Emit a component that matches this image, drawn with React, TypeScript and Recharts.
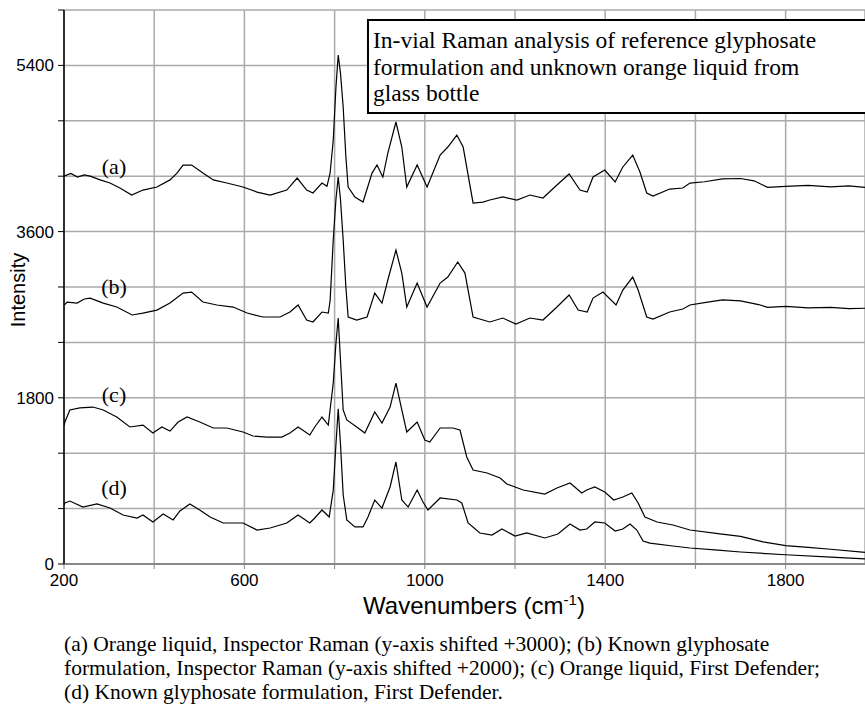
import { LineChart, Line, XAxis, YAxis, CartesianGrid } from 'recharts';

// (a) Orange liquid, Inspector Raman (+3000)
const waveA = [200, 215, 230, 245, 258, 280, 302, 325, 350, 375, 406, 435, 450, 464, 483, 508, 531, 561, 597, 628, 657, 694, 717, 738, 752, 772, 783, 790, 797, 803, 808, 813, 819, 825, 830, 845, 863, 883, 894, 907, 918, 936, 949, 960, 983, 1005, 1034, 1051, 1071, 1085, 1107, 1129, 1144, 1173, 1204, 1233, 1262, 1293, 1320, 1344, 1360, 1373, 1399, 1422, 1439, 1461, 1477, 1492, 1506, 1543, 1572, 1588, 1620, 1660, 1700, 1730, 1760, 1800, 1850, 1900, 1940, 1976];
const intA = [4200, 4230, 4190, 4215, 4200, 4160, 4126, 4070, 3996, 4050, 4083, 4160, 4230, 4321, 4321, 4234, 4160, 4126, 4083, 4028, 3996, 4050, 4180, 4050, 4018, 4126, 4090, 4234, 4592, 5166, 5512, 5317, 4949, 4408, 4083, 3975, 3920, 4234, 4321, 4191, 4451, 4787, 4516, 4083, 4321, 4083, 4429, 4516, 4646, 4516, 3910, 3920, 3942, 3975, 3942, 3996, 3964, 4105, 4224, 4050, 4028, 4191, 4267, 4137, 4300, 4429, 4245, 4018, 3985, 4061, 4072, 4126, 4140, 4170, 4175, 4150, 4080, 4090, 4100, 4085, 4095, 4080];

// (b) Known glyphosate formulation, Inspector Raman (+2000)
const waveB = [200, 207, 229, 245, 258, 287, 317, 351, 375, 406, 435, 464, 483, 508, 539, 575, 606, 641, 679, 701, 719, 738, 752, 772, 786, 790, 797, 803, 808, 813, 819, 825, 830, 849, 872, 889, 905, 918, 936, 949, 960, 983, 1005, 1034, 1051, 1073, 1089, 1107, 1144, 1173, 1202, 1233, 1262, 1293, 1320, 1340, 1360, 1373, 1395, 1424, 1439, 1461, 1473, 1492, 1506, 1543, 1572, 1588, 1620, 1660, 1700, 1740, 1760, 1800, 1850, 1900, 1940, 1976];
const intB = [2800, 2837, 2826, 2870, 2880, 2826, 2783, 2697, 2718, 2750, 2826, 2934, 2945, 2837, 2805, 2783, 2718, 2675, 2675, 2729, 2805, 2642, 2621, 2729, 2718, 2850, 3509, 3950, 4191, 3950, 3509, 3000, 2675, 2642, 2675, 2934, 2826, 3076, 3400, 3151, 2783, 3043, 2783, 3043, 3108, 3271, 3151, 2675, 2621, 2664, 2599, 2664, 2642, 2783, 2913, 2750, 2729, 2880, 2945, 2805, 2967, 3108, 2967, 2675, 2653, 2729, 2762, 2805, 2830, 2860, 2850, 2810, 2780, 2790, 2775, 2780, 2765, 2770];

// (c) Orange liquid, First Defender
const waveC = [200, 202, 213, 235, 264, 287, 317, 346, 375, 397, 417, 435, 453, 473, 501, 531, 561, 597, 619, 650, 683, 701, 719, 745, 756, 772, 786, 797, 803, 808, 813, 819, 827, 849, 867, 889, 905, 923, 936, 949, 960, 983, 1000, 1011, 1034, 1062, 1078, 1093, 1107, 1138, 1167, 1182, 1218, 1266, 1293, 1322, 1348, 1359, 1377, 1399, 1419, 1439, 1459, 1473, 1488, 1515, 1550, 1588, 1650, 1700, 1750, 1800, 1850, 1900, 1976];
const intC = [1500, 1538, 1668, 1690, 1700, 1668, 1592, 1484, 1505, 1419, 1484, 1440, 1538, 1592, 1538, 1473, 1473, 1430, 1386, 1375, 1375, 1419, 1484, 1397, 1484, 1592, 1505, 1960, 2393, 2664, 2210, 1668, 1560, 1484, 1419, 1646, 1527, 1700, 1960, 1668, 1430, 1538, 1343, 1321, 1473, 1473, 1451, 1159, 1018, 986, 931, 866, 801, 758, 823, 877, 769, 801, 834, 780, 693, 726, 769, 661, 509, 455, 422, 368, 330, 300, 240, 200, 180, 160, 125];

// (d) Known glyphosate formulation, First Defender
const waveD = [200, 202, 213, 242, 273, 302, 331, 362, 375, 397, 420, 442, 457, 479, 501, 524, 553, 597, 628, 657, 694, 719, 745, 756, 772, 788, 797, 803, 808, 813, 819, 827, 845, 863, 874, 889, 905, 923, 936, 949, 963, 983, 996, 1007, 1034, 1071, 1082, 1096, 1122, 1149, 1171, 1200, 1226, 1266, 1295, 1322, 1344, 1359, 1377, 1399, 1422, 1439, 1455, 1470, 1484, 1499, 1550, 1588, 1650, 1700, 1800, 1900, 1976];
const intD = [640, 661, 682, 617, 650, 606, 531, 498, 531, 455, 542, 477, 574, 650, 585, 509, 444, 444, 368, 390, 444, 531, 444, 498, 585, 509, 800, 1300, 1680, 1300, 750, 477, 401, 401, 509, 693, 606, 834, 1105, 693, 617, 801, 671, 585, 715, 693, 661, 444, 336, 314, 379, 303, 336, 282, 325, 433, 368, 379, 455, 444, 357, 379, 433, 368, 249, 227, 195, 173, 150, 130, 100, 75, 55];

const xTicks = [200, 400, 600, 800, 1000, 1200, 1400, 1600, 1800];
const xLabelled = [200, 600, 1000, 1400, 1800];
const yTicks = [0, 600, 1200, 1800, 2400, 3000, 3600, 4200, 4800, 5400, 6000];
const yLabelled = [0, 1800, 3600, 5400];

const seriesLabels = ['(a)', '(b)', '(c)', '(d)'];
const labelY = [167, 287, 395, 488];

const toPoints = (w: number[], v: number[]) => w.map((x, i) => ({ wn: x, intensity: v[i] }));
const series = [toPoints(waveA, intA), toPoints(waveB, intB), toPoints(waveC, intC), toPoints(waveD, intD)];

const serif = '"Times New Roman", "Liberation Serif", serif';
const sans = 'Arial, "Liberation Sans", sans-serif';

export default function App() {
  return (
    <div style={{ position: 'absolute', left: 0, top: 0, width: 865, height: 704, background: '#fff', overflow: 'hidden' }}>
      <LineChart width={865} height={594} margin={{ top: 10, right: 0, bottom: 0, left: 0 }}>
        <CartesianGrid stroke="#aaa" strokeWidth={1.5} />
        <XAxis
          type="number"
          dataKey="wn"
          domain={[200, 1976]}
          ticks={xTicks}
          tickFormatter={(v: number) => (xLabelled.includes(v) ? String(v) : '')}
          height={30}
          tickSize={5}
          tickMargin={5}
          axisLine={{ stroke: '#888', strokeWidth: 2 }}
          tickLine={{ stroke: '#888' }}
          tick={{ fill: '#000', fontSize: 17, fontFamily: sans }}
          allowDataOverflow
        />
        <YAxis
          type="number"
          domain={[0, 6000]}
          ticks={yTicks}
          tickFormatter={(v: number) => (yLabelled.includes(v) ? String(v) : '')}
          width={64}
          tickSize={6}
          tickMargin={4}
          axisLine={{ stroke: '#000', strokeWidth: 1.5 }}
          tickLine={{ stroke: '#000' }}
          tick={{ fill: '#000', fontSize: 17, fontFamily: sans }}
        />
        {series.map((d, i) => (
          <Line
            key={i}
            data={d}
            dataKey="intensity"
            type="linear"
            stroke="#000"
            strokeWidth={1.2}
            dot={false}
            isAnimationActive={false}
          />
        ))}
      </LineChart>

      <div
        style={{
          position: 'absolute', left: 367, top: 19, width: 560, height: 85,
          border: '2px solid #000', background: '#fff', fontFamily: serif,
          fontSize: 23.5, lineHeight: '26.5px', paddingLeft: 4, paddingTop: 6, color: '#000',
        }}
      >
        In-vial Raman analysis of reference glyphosate<br />
        formulation and unknown orange liquid from<br />
        glass bottle
      </div>

      {seriesLabels.map((s, i) => (
        <div
          key={s}
          style={{
            position: 'absolute', left: 114, top: labelY[i], transform: 'translate(-50%, -50%)',
            fontFamily: serif, fontSize: 22, lineHeight: '22px', color: '#000',
          }}
        >
          {s}
        </div>
      ))}

      <div
        style={{
          position: 'absolute', left: 18, top: 290, transform: 'translate(-50%, -50%) rotate(-90deg)',
          fontFamily: sans, fontSize: 20, whiteSpace: 'nowrap', color: '#000',
        }}
      >
        Intensity
      </div>

      <div
        style={{
          position: 'absolute', left: 474, top: 606, transform: 'translate(-50%, -50%)',
          fontFamily: sans, fontSize: 24, whiteSpace: 'nowrap', color: '#000', lineHeight: '26px',
        }}
      >
        Wavenumbers (cm<sup style={{ fontSize: 15, lineHeight: 0 }}>-1</sup>)
      </div>

      <div
        style={{
          position: 'absolute', left: 64, top: 632, width: 800,
          fontFamily: serif, fontSize: 21.5, lineHeight: '24px', color: '#000',
        }}
      >
        (a) Orange liquid, Inspector Raman (y-axis shifted +3000); (b) Known glyphosate<br />
        formulation, Inspector Raman (y-axis shifted +2000); (c) Orange liquid, First Defender;<br />
        (d) Known glyphosate formulation, First Defender.
      </div>
    </div>
  );
}
